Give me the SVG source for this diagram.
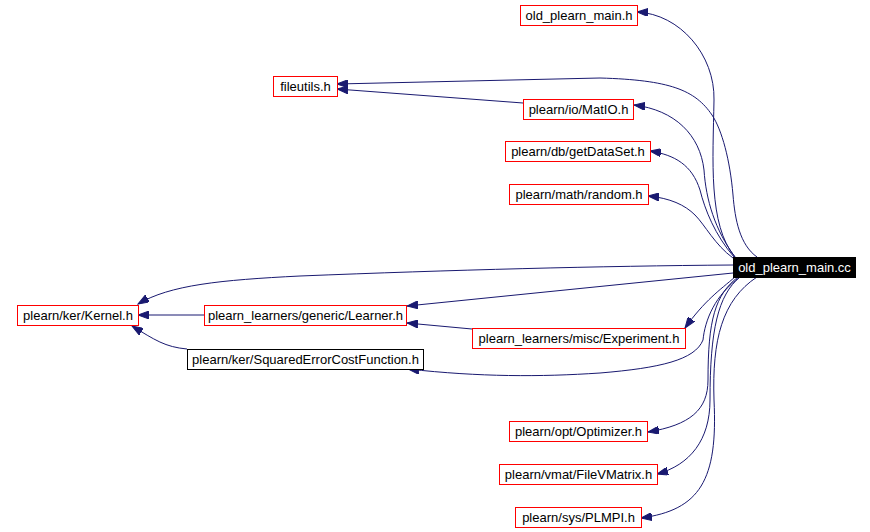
<svg xmlns="http://www.w3.org/2000/svg" width="870" height="532" viewBox="0 0 870 532">
<defs>
<style>
.n rect{fill:#fff;stroke:#ff0000;stroke-width:1}
.n.k rect{stroke:#000}
.n.m rect{fill:#000;stroke:#000}
.n text{font-family:"Liberation Sans",Arial,sans-serif;font-size:13px;fill:#000;text-anchor:middle}
.n.m text{fill:#fff}
.e path{fill:none;stroke:#191970;stroke-width:1;marker-end:url(#ah)}
</style>
<marker id="ah" markerUnits="userSpaceOnUse" markerWidth="12" markerHeight="8" refX="11" refY="4" orient="auto">
<path d="M0,0 L11,4 L0,8 z" fill="#191970" stroke="#191970" stroke-width="1"/>
</marker>
</defs>
<rect width="870" height="532" fill="#fff"/>
<g id="edges" class="e">
<path d="M735,257 C708,225 713,160 714,100 C715,55 680,14 637,12"/>
<path d="M757,257 C740,245 735,220 733,195 C730,160 722,130 712,115 C695,90 670,80 600,78 L337,84"/>
<path d="M523,103 L337,89"/>
<path d="M735,257 C715,230 706,200 704,170 C700,135 675,110 634,105"/>
<path d="M734,257 C715,235 705,210 700,190 C692,165 675,155 650,151"/>
<path d="M733,258 C715,245 705,225 695,215 C685,205 670,198 648,196"/>
<path d="M733,265 C600,266 450,270 300,276 C220,280 170,285 138,304"/>
<path d="M733,273 L407,306"/>
<path d="M472,329 L407,323"/>
<path d="M204,315 L138,315"/>
<path d="M187,349 C165,347 155,340 132,326"/>
<path d="M735,277 C720,290 705,300 685,328"/>
<path d="M740,277 C715,295 705,320 703,340 C695,360 660,368 600,373 C540,377 480,377 408,369"/>
<path d="M738,277 C715,295 708,320 708,380 C708,410 690,425 648,432"/>
<path d="M740,277 C718,295 710,330 710,400 C710,440 690,465 657,474"/>
<path d="M757,277 C722,300 712,340 714,400 C718,480 700,510 641,518"/>
</g>
<g id="n_cc" class="n m"><rect x="733.5" y="257.5" width="122" height="20"/><text x="794.5" y="272">old_plearn_main.cc</text></g>
<g id="n_oldh" class="n"><rect x="520.5" y="5.5" width="117" height="20"/><text x="579" y="20">old_plearn_main.h</text></g>
<g id="n_fileutils" class="n"><rect x="273.5" y="76.5" width="64" height="20"/><text x="305.5" y="91">fileutils.h</text></g>
<g id="n_matio" class="n"><rect x="523.5" y="99.5" width="110" height="20"/><text x="578.5" y="114">plearn/io/MatIO.h</text></g>
<g id="n_getdataset" class="n"><rect x="505.5" y="141.5" width="145" height="20"/><text x="578" y="156">plearn/db/getDataSet.h</text></g>
<g id="n_random" class="n"><rect x="509.5" y="184.5" width="139" height="20"/><text x="579" y="199">plearn/math/random.h</text></g>
<g id="n_kernel" class="n"><rect x="17.5" y="305.5" width="121" height="20"/><text x="78" y="320">plearn/ker/Kernel.h</text></g>
<g id="n_learner" class="n"><rect x="204.5" y="305.5" width="202" height="20"/><text x="305.5" y="320">plearn_learners/generic/Learner.h</text></g>
<g id="n_sqerr" class="n k"><rect x="187.5" y="349.5" width="236" height="20"/><text x="305.5" y="364">plearn/ker/SquaredErrorCostFunction.h</text></g>
<g id="n_experiment" class="n"><rect x="472.5" y="328.5" width="213" height="20"/><text x="579" y="343">plearn_learners/misc/Experiment.h</text></g>
<g id="n_optimizer" class="n"><rect x="509.5" y="421.5" width="138" height="20"/><text x="578.5" y="436">plearn/opt/Optimizer.h</text></g>
<g id="n_filevmatrix" class="n"><rect x="499.5" y="464.5" width="158" height="20"/><text x="578.5" y="479">plearn/vmat/FileVMatrix.h</text></g>
<g id="n_plmpi" class="n"><rect x="515.5" y="507.5" width="126" height="20"/><text x="578.5" y="522">plearn/sys/PLMPI.h</text></g>
</svg>
